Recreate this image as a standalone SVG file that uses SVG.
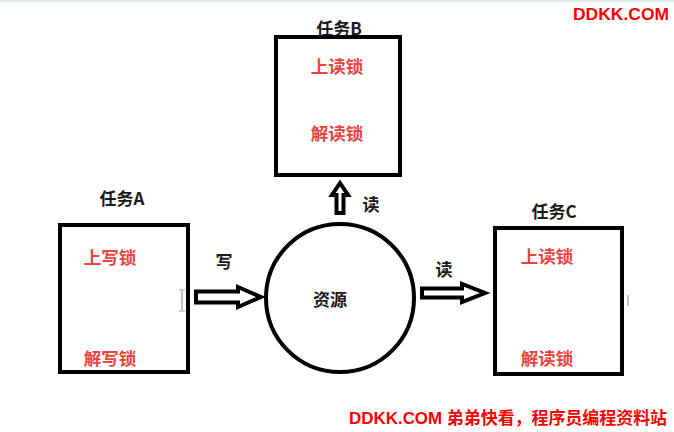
<svg xmlns="http://www.w3.org/2000/svg" width="674" height="432" viewBox="0 0 674 432">
  <style>
    .box { fill: #ffffff; stroke: #000000; stroke-width: 4; }
    .arrow { fill: #ffffff; stroke: #000000; stroke-width: 4; stroke-linejoin: miter; }
    .title { font-family: "Noto Sans CJK SC", "Liberation Sans", sans-serif; font-weight: bold; font-size: 17px; fill: #1a1a1a; text-anchor: middle; }
    .lock { font-family: "Noto Sans CJK SC", "Liberation Sans", sans-serif; font-weight: bold; font-size: 17.5px; fill: #e8453c; text-anchor: middle; }
    .label { font-family: "Noto Sans CJK SC", "Liberation Sans", sans-serif; font-weight: bold; font-size: 17px; fill: #1a1a1a; text-anchor: middle; }
    .mark { font-family: "Liberation Sans", "Noto Sans CJK SC", sans-serif; font-weight: bold; font-size: 17px; fill: #ff0000; }
    .cursor { fill: none; stroke: #9a9a9a; stroke-width: 1.2; }
  </style>
  <rect x="0" y="0" width="674" height="432" fill="#ffffff"/>
  <rect x="0" y="0" width="674" height="2" fill="#e3e8ec"/>

  <g id="connectors">
    <path class="arrow" d="M196,291.5 L238,291.5 L238,287 L261,297 L238,307 L238,302.5 L196,302.5 Z"/>
    <path class="arrow" d="M422,288.5 L462,288.5 L462,284 L485,293 L462,302 L462,297.5 L422,297.5 Z"/>
    <path class="arrow" d="M336.5,213 L336.5,195 L332,195 L340,183 L348,195 L343.5,195 L343.5,213 Z"/>
    <text class="label" x="224" y="268">写</text>
    <text class="label" x="444" y="276">读</text>
    <text class="label" x="371" y="211">读</text>
  </g>

  <g id="taskA">
    <rect class="box" x="60" y="225" width="128" height="147"/>
    <text class="title" x="122" y="205">任务A</text>
    <text class="lock" x="110" y="264">上写锁</text>
    <text class="lock" x="110" y="365">解写锁</text>
  </g>

  <g id="taskB">
    <text class="title" x="339" y="35">任务B</text>
    <rect class="box" x="276" y="37" width="124" height="138"/>
    <text class="lock" x="337" y="73">上读锁</text>
    <text class="lock" x="337" y="140">解读锁</text>
  </g>

  <g id="taskC">
    <rect class="box" x="495" y="228" width="127" height="146"/>
    <text class="title" x="554" y="218">任务C</text>
    <text class="lock" x="547" y="263">上读锁</text>
    <text class="lock" x="547" y="365">解读锁</text>
  </g>

  <g id="resource">
    <circle cx="340" cy="298" r="74" fill="#ffffff" stroke="#000000" stroke-width="4"/>
    <text class="label" x="330" y="306">资源</text>
  </g>

  <g id="artifacts">
    <path class="cursor" d="M182,291 L182,310 M179,290 L185,290 M179,311 L185,311"/>
    <line x1="628" y1="295" x2="628" y2="306" stroke="#a0a0a0" stroke-width="1.2"/>
  </g>

  <g id="watermarks">
    <text class="mark" x="573" y="20" textLength="96" lengthAdjust="spacingAndGlyphs">DDKK.COM</text>
    <text class="mark" x="349" y="424" textLength="318" lengthAdjust="spacingAndGlyphs">DDKK.COM 弟弟快看，程序员编程资料站</text>
  </g>
</svg>
